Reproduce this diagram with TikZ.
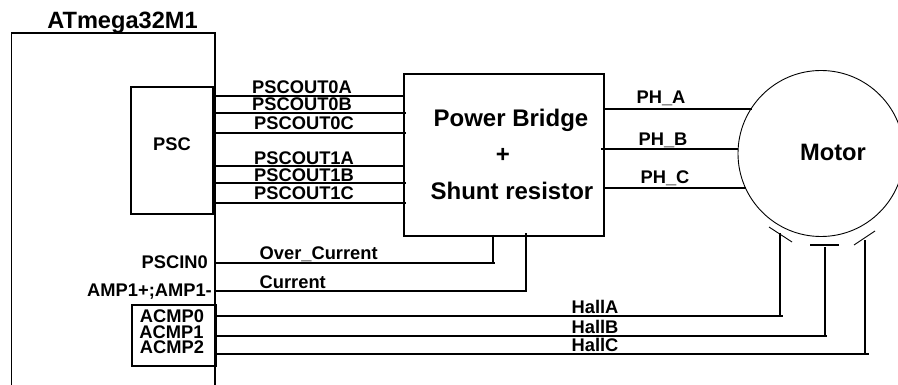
\documentclass[tikz,border=0pt]{standalone}
\usepackage{fontspec}
\setmainfont{Liberation Sans}
\newcommand{\fs}[1]{\fontsize{#1}{#1}\selectfont\bfseries}
\tikzset{
  wire/.style={line width=1.6pt,line cap=butt},
  thinwire/.style={line width=0.9pt},
  boxa/.style={draw,line width=1.6pt,inner sep=0pt,anchor=north west},
  lab/.style={inner sep=0pt,font=\fs{18.3}},
  big/.style={inner sep=0pt,font=\fs{24}},
}
\begin{document}
\begin{tikzpicture}[x=1pt,y=-1pt]
\useasboundingbox (0,0) rectangle (898,385);
\clip (0,0) rectangle (898,385);
% chip
\coordinate (cbl) at (11.5,385);
\coordinate (ctl) at (11.5,33);
\coordinate (ctr) at (215,33);
\coordinate (cbr) at (215,385);
\draw[wire] (cbl) -- (ctl) -- (ctr) -- (cbr);
\node[inner sep=0pt,font=\fs{23.6},anchor=base] (chipname) at (122.5,29) {ATmega32M1};
% boxes
\node[boxa,minimum width=82pt,minimum height=127pt] (psc) at (130,86) {};
\node[lab] (psclab) at (172,144.5) {PSC};
\node[boxa,minimum width=200pt,minimum height=162pt] (power) at (403,73) {};
\node[big,anchor=base] (pb1) at (511,127) {Power Bridge};
\node[big] (pb2) at (503,155.5) {+};
\node[big,anchor=base] (pb3) at (512,200) {Shunt resistor};
\node[boxa,minimum width=84pt,minimum height=61pt] (acmp) at (131,304) {};
% motor
\node[draw,circle,thinwire,minimum size=166pt,inner sep=0pt] (motor) at (821,153.5) {};
\node[inner sep=0pt,font=\fs{23.7}] (motorlab) at (833,152.5) {Motor};
% PSC outputs
\foreach \n/\y/\e in {a/96/403,b/113/406,c/133/406,d/166/403,e/183/406,f/203/406}{
  \coordinate (s\n) at (212,\y);
  \coordinate (t\n) at (\e,\y);
  \draw[wire] (s\n) -- (t\n);
}
\node[lab] (l0a) at (302,87) {PSCOUT0A};
\node[lab] (l0b) at (302,104.5) {PSCOUT0B};
\node[lab] (l0c) at (304,123) {PSCOUT0C};
\node[lab] (l1a) at (304,158) {PSCOUT1A};
\node[lab] (l1b) at (304,175) {PSCOUT1B};
\node[lab] (l1c) at (304,193) {PSCOUT1C};
% phases
\coordinate (pha) at (603,109);  \coordinate (phae) at (752,109);
\coordinate (phb) at (601,149);  \coordinate (phbe) at (738,149);
\coordinate (phc) at (603,188);  \coordinate (phce) at (746,188);
\draw[wire] (pha) -- (phae);
\draw[wire] (phb) -- (phbe);
\draw[wire] (phc) -- (phce);
\node[lab,anchor=base] (lpa) at (661,104) {PH\_A};
\node[lab,anchor=base] (lpb) at (663,146) {PH\_B};
\node[lab,anchor=base] (lpc) at (665,184) {PH\_C};
% current feedback
\coordinate (ocs) at (215,263); \coordinate (oce) at (495,263); \coordinate (och) at (493,263); \coordinate (oct) at (493,235);
\coordinate (cus) at (215,291); \coordinate (cuc) at (526,291); \coordinate (cut) at (526,233);
\draw[wire] (ocs) -- (oce);
\draw[wire] (oct) -- (och);
\draw[wire] (cus) -- (cuc) -- (cut);
\node[lab,anchor=base west] (lov) at (259.5,259.5) {Over\_Current};
\node[lab,anchor=base west] (lcu) at (259.5,288) {Current};
\node[lab,anchor=base east] (lpi) at (208,269) {PSCIN0};
\node[lab,anchor=base east] (lam) at (212,296) {AMP1+;AMP1-};
\node[lab] (la0) at (172,316.5) {ACMP0};
\node[lab] (la1) at (171.5,332) {ACMP1};
\node[lab] (la2) at (172,347.5) {ACMP2};
% hall sensors
\coordinate (h1a) at (769,227); \coordinate (h1b) at (792,242);
\coordinate (h2a) at (810,245); \coordinate (h2b) at (839,245);
\coordinate (h3a) at (854,245); \coordinate (h3b) at (875,231);
\draw[thinwire] (h1a) -- (h1b);
\draw[wire] (h2a) -- (h2b);
\draw[thinwire] (h3a) -- (h3b);
\coordinate (has) at (215,316); \coordinate (hae) at (783,316); \coordinate (hac) at (780,316); \coordinate (hat) at (780,233);
\coordinate (hbs) at (215,336); \coordinate (hbe) at (827,336); \coordinate (hbc) at (825,336); \coordinate (hbt) at (825,247);
\coordinate (hcs) at (215,354); \coordinate (hce) at (869,354); \coordinate (hcc) at (865,354); \coordinate (hct) at (865,240);
\draw[wire] (has) -- (hae);
\draw[wire] (hac) -- (hat);
\draw[wire] (hbs) -- (hbe);
\draw[wire] (hbc) -- (hbt);
\draw[wire] (hcs) -- (hce);
\draw[wire] (hcc) -- (hct);
\node[lab] (lha) at (595,307) {HallA};
\node[lab] (lhb) at (595,327) {HallB};
\node[lab] (lhc) at (595,345) {HallC};
\end{tikzpicture}
\end{document}
